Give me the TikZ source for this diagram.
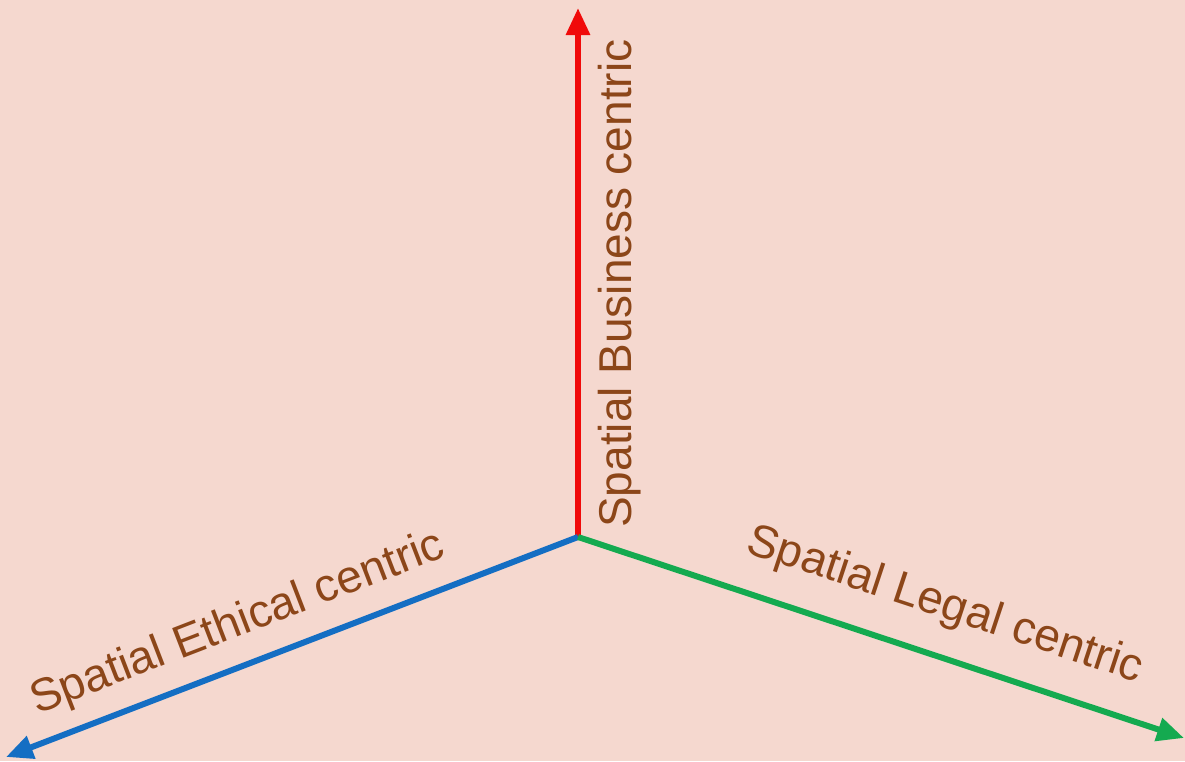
\documentclass[tikz,border=0pt]{standalone}
\usepackage{fontspec}
\setmainfont{Liberation Sans}
\usetikzlibrary{arrows.meta}
\definecolor{bg}{RGB}{245,216,207}
\definecolor{axred}{RGB}{240,10,10}
\definecolor{axblue}{RGB}{20,110,195}
\definecolor{axgreen}{RGB}{20,170,80}
\definecolor{lbl}{RGB}{140,70,25}
\tikzset{
  axis/.style={line width=6pt,-{Triangle[length=27pt,width=23pt]}},
  lab/.style={text=lbl,font=\fontsize{46}{50}\selectfont,inner sep=0pt}
}
\begin{document}
\begin{tikzpicture}[x=1pt,y=-1pt]
\fill[bg] (0,0) rectangle (1185,761);
\useasboundingbox (0,0) rectangle (1185,761);
\coordinate (O) at (578,537);
\coordinate (up) at (578,8);
\coordinate (lt) at (6,757);
\coordinate (rt) at (1184,738);
\draw[axis,axred] (O) -- (up);
\draw[axis,axblue] (O) -- (lt);
\draw[axis,axgreen] (O) -- (rt);
\node[lab,rotate=90,anchor=base west] (bus) at (631,528) {Spatial Business centric};
\node[lab,rotate=21.1] (eth) at (238,624) {Spatial Ethical centric};
\node[lab,rotate=-18.3] (leg) at (945,606) {Spatial Legal centric};
\end{tikzpicture}
\end{document}
